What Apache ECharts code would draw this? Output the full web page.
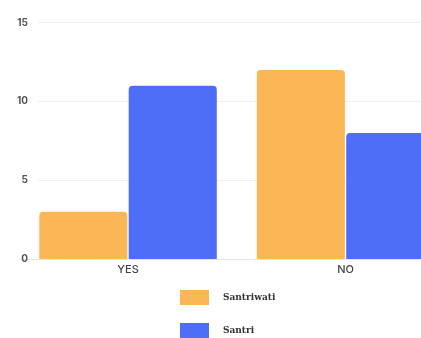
<!DOCTYPE html>
<html>
<head>
<meta charset="utf-8">
<script src="https://cdn.jsdelivr.net/npm/echarts@6/dist/echarts.min.js"></script>
<style>
html,body{margin:0;padding:0;background:#fff;}
#main{width:421px;height:338px;}
</style>
</head>
<body>
<div id="main"></div>
<script>
var categories = ['YES', 'NO'];
var seriesNames = ['Santriwati', 'Santri'];
var santriwati = [3, 12];
var santri = [11, 8];
var yTicks = [0, 5, 10, 15];

var legendText = { fontFamily: 'DejaVu Serif', fontWeight: 'bold', fontSize: 9, color: '#333', padding: [0, 0, 0, 9] };
var chart = echarts.init(document.getElementById('main'));
chart.setOption({
  animation: false,
  backgroundColor: '#ffffff',
  legend: [
    { orient: 'vertical', left: 180, top: 290, itemWidth: 29, itemHeight: 15, icon: 'rect', padding: 0,
      data: [seriesNames[0]], textStyle: legendText },
    { orient: 'vertical', left: 180, top: 323, itemWidth: 29, itemHeight: 15, icon: 'rect', padding: 0,
      data: [seriesNames[1]], textStyle: legendText }
  ],
  grid: [
    { left: 38, right: 0, top: 22.7, bottom: 79, outerBoundsMode: 'none' },
    { left: 19.3, width: 435, top: 22.7, bottom: 79, outerBoundsMode: 'none' }
  ],
  xAxis: [
    { gridIndex: 0, type: 'category', data: categories, show: false },
    {
      gridIndex: 1, type: 'category', data: categories,
      axisLine: { show: true, lineStyle: { color: '#e6e6e6' } },
      axisTick: { show: false },
      axisLabel: { color: '#444', fontSize: 11, fontFamily: 'Inter', fontWeight: 500, margin: 5 }
    }
  ],
  yAxis: [
    {
      gridIndex: 0, type: 'value', min: yTicks[0], max: yTicks[yTicks.length - 1], interval: 5,
      axisLine: { show: false }, axisTick: { show: false },
      axisLabel: { color: '#555', fontSize: 10, fontFamily: 'Inter', fontWeight: 'bold', margin: 10 },
      splitLine: { lineStyle: { color: '#efefef' } }
    },
    {
      gridIndex: 1, type: 'value', min: yTicks[0], max: yTicks[yTicks.length - 1], interval: 5,
      show: false, splitLine: { show: false }
    }
  ],
  series: [
    {
      name: seriesNames[0], type: 'bar', xAxisIndex: 1, yAxisIndex: 1,
      data: santriwati, barGap: '1.5%', barCategoryGap: '18.4%',
      itemStyle: { color: '#FBB655', borderRadius: [4, 4, 0, 0] }
    },
    {
      name: seriesNames[1], type: 'bar', xAxisIndex: 1, yAxisIndex: 1,
      data: santri, barGap: '1.5%', barCategoryGap: '18.4%',
      itemStyle: { color: '#4F6EF8', borderRadius: [4, 4, 0, 0] }
    }
  ]
});
</script>
</body>
</html>
